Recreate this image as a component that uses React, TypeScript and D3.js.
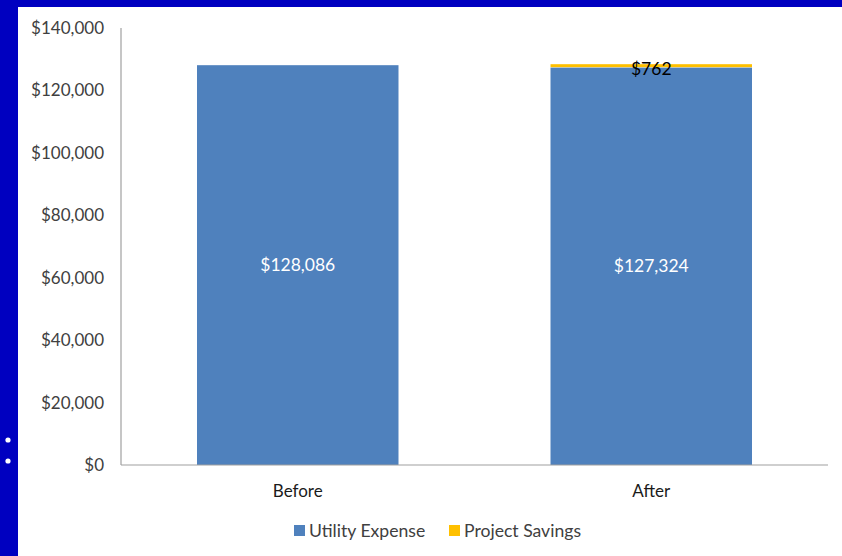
import React from "react";
import * as d3 from "d3";

const categories = ["Before", "After"];
const utilityExpense = [128086, 127324];
const projectSavings = [0, 762];
const yTicks = [0, 20000, 40000, 60000, 80000, 100000, 120000, 140000];
const seriesNames = ["Utility Expense", "Project Savings"];
const seriesColors = ["#4F81BD", "#FFC000"];

const W = 842;
const H = 556;
const FONT = "Lato, 'Open Sans', sans-serif";

export default function App() {
  const x = d3.scaleBand<string>().domain(categories).range([121, 828]).paddingInner(0.43).paddingOuter(0.215);
  const y = d3.scaleLinear().domain([0, 140000]).range([465, 28]);
  const fmt = (v: number) => "$" + d3.format(",")(v);

  return (
    <svg width={W} height={H} style={{ position: "absolute", left: 0, top: 0 }}>
      <rect x={0} y={0} width={W} height={H} fill="#0000C0" />
      <rect x={18} y={7} width={W - 18} height={H - 7} fill="#FFFFFF" />
      <circle cx={8} cy={440} r={2.6} fill="#FFFFFF" />
      <circle cx={8} cy={461} r={2.6} fill="#FFFFFF" />

      {yTicks.map((t) => (
        <text key={t} x={104} y={y(t)} dy="0.35em" textAnchor="end" fontFamily={FONT} fontSize={17} fill="#404040">
          {fmt(t)}
        </text>
      ))}

      {categories.map((c, i) => {
        const bx = x(c) as number;
        const bw = x.bandwidth();
        const u = utilityExpense[i];
        const s = projectSavings[i];
        return (
          <g key={c}>
            <rect x={bx} y={y(u)} width={bw} height={y(0) - y(u)} fill={seriesColors[0]} />
            {s > 0 && <rect x={bx} y={y(u + s)} width={bw} height={Math.max(y(u) - y(u + s), 3)} fill={seriesColors[1]} transform={`translate(0,${-1})`} />}
            <text x={bx + bw / 2} y={(y(0) + y(u)) / 2} dy="0.35em" textAnchor="middle" fontFamily={FONT} fontSize={17.5} fill="#FFFFFF">
              {fmt(u)}
            </text>
            {s > 0 && (
              <text x={bx + bw / 2} y={y(u + s) + 4} dy="0.35em" textAnchor="middle" fontFamily={FONT} fontSize={17.5} fill="#000000">
                {fmt(s)}
              </text>
            )}
            <text x={bx + bw / 2} y={491} dy="0.35em" textAnchor="middle" fontFamily={FONT} fontSize={17} fill="#1a1a1a">
              {c}
            </text>
          </g>
        );
      })}

      <line x1={121} x2={121} y1={28} y2={465} stroke="#A0A0A0" strokeWidth={1.2} />
      <line x1={121} x2={828} y1={465} y2={465} stroke="#A0A0A0" strokeWidth={1.2} />

      {seriesNames.map((n, i) => {
        const lx = i === 0 ? 294 : 449;
        return (
          <g key={n}>
            <rect x={lx} y={525} width={11} height={11} fill={seriesColors[i]} />
            <text x={lx + 15} y={531} dy="0.35em" fontFamily={FONT} fontSize={17.6} fill="#404040">
              {n}
            </text>
          </g>
        );
      })}
    </svg>
  );
}
